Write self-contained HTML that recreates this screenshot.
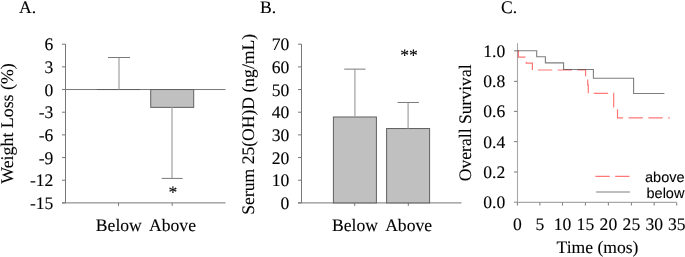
<!DOCTYPE html>
<html><head><meta charset="utf-8"><style>
html,body{margin:0;padding:0;background:#fff;width:685px;height:257px;overflow:hidden}
svg{display:block}
text{text-rendering:geometricPrecision;font-family:"Liberation Serif",serif;font-size:17.6px;fill:#000;stroke:#000;stroke-width:0.1px}
text.sans{font-family:"Liberation Sans",sans-serif;font-size:14.5px}
.ax{stroke:#777;stroke-width:1;fill:none}
.axc{stroke:#a8a8a8;stroke-width:1.1;fill:none}
.tkc{stroke:#858585;stroke-width:1.1;fill:none}
.ev{stroke:#a4a4a4;stroke-width:1.25;fill:none}
.er{stroke:#7a7a7a;stroke-width:1;fill:none}
.bar{fill:#c0c0c0;stroke:#606060;stroke-width:1}
.gr{stroke:#7e7e7e;stroke-width:1.1;fill:none}
.rd{stroke:#ff7878;stroke-width:1.2;fill:none;stroke-dasharray:14.3 5.5;mix-blend-mode:multiply}
</style></head><body>
<svg width="685" height="257" viewBox="0 0 685 257">
<line x1="65.5" y1="44.2" x2="65.5" y2="202.89" class="ax"/>
<line x1="62" y1="44.2" x2="65.5" y2="44.2" class="ax"/>
<text transform="translate(53.4,50.2) scale(1,1)" text-anchor="end">6</text>
<line x1="62" y1="66.87" x2="65.5" y2="66.87" class="ax"/>
<text transform="translate(53.4,72.87) scale(1,1)" text-anchor="end">3</text>
<line x1="62" y1="89.54" x2="65.5" y2="89.54" class="ax"/>
<text transform="translate(53.4,95.54) scale(1,1)" text-anchor="end">0</text>
<line x1="62" y1="112.21" x2="65.5" y2="112.21" class="ax"/>
<text transform="translate(53.4,118.21) scale(1,1)" text-anchor="end">-3</text>
<line x1="62" y1="134.88" x2="65.5" y2="134.88" class="ax"/>
<text transform="translate(53.4,140.88) scale(1,1)" text-anchor="end">-6</text>
<line x1="62" y1="157.55" x2="65.5" y2="157.55" class="ax"/>
<text transform="translate(53.4,163.55) scale(1,1)" text-anchor="end">-9</text>
<line x1="62" y1="180.22" x2="65.5" y2="180.22" class="ax"/>
<text transform="translate(53.4,186.22) scale(1,1)" text-anchor="end">-12</text>
<line x1="62" y1="202.89" x2="65.5" y2="202.89" class="ax"/>
<text transform="translate(53.4,208.89) scale(1,1)" text-anchor="end">-15</text>
<line x1="62" y1="202.89" x2="225.5" y2="202.89" class="ax"/>
<line x1="118.5" y1="202.89" x2="118.5" y2="205.89" class="ax"/>
<text transform="translate(118.8,230.7) scale(1,1)" text-anchor="middle">Below</text>
<line x1="172.2" y1="202.89" x2="172.2" y2="205.89" class="ax"/>
<text transform="translate(172.5,230.7) scale(1,1)" text-anchor="middle">Above</text>
<line x1="65.5" y1="89.54" x2="225.5" y2="89.54" class="ax"/>
<line x1="97" y1="89.54" x2="140" y2="89.54" stroke="#606060" stroke-width="1"/>
<line x1="119" y1="89.54" x2="119" y2="57.5" class="ev"/>
<line x1="108" y1="57.5" x2="130" y2="57.5" class="er"/>
<rect x="150.7" y="89.54" width="43" height="17.83" class="bar"/>
<line x1="172" y1="107.37" x2="172" y2="178.41" class="ev"/>
<line x1="161.7" y1="178.41" x2="182.7" y2="178.41" class="er"/>
<text transform="translate(173,198.4) scale(1,1)" text-anchor="middle">*</text>
<text transform="translate(19,12.8) scale(1,1)">A.</text>
<text transform="translate(13.2,123.5) rotate(-90) scale(1,1)" text-anchor="middle" style="font-size:17.85px">Weight Loss (%)</text>
<line x1="301.5" y1="44.2" x2="301.5" y2="202.9" class="ax"/>
<line x1="298" y1="44.2" x2="301.5" y2="44.2" class="ax"/>
<text transform="translate(289.4,50.2) scale(1,1)" text-anchor="end">70</text>
<line x1="298" y1="66.87" x2="301.5" y2="66.87" class="ax"/>
<text transform="translate(289.4,72.87) scale(1,1)" text-anchor="end">60</text>
<line x1="298" y1="89.54" x2="301.5" y2="89.54" class="ax"/>
<text transform="translate(289.4,95.54) scale(1,1)" text-anchor="end">50</text>
<line x1="298" y1="112.21" x2="301.5" y2="112.21" class="ax"/>
<text transform="translate(289.4,118.21) scale(1,1)" text-anchor="end">40</text>
<line x1="298" y1="134.89" x2="301.5" y2="134.89" class="ax"/>
<text transform="translate(289.4,140.89) scale(1,1)" text-anchor="end">30</text>
<line x1="298" y1="157.56" x2="301.5" y2="157.56" class="ax"/>
<text transform="translate(289.4,163.56) scale(1,1)" text-anchor="end">20</text>
<line x1="298" y1="180.23" x2="301.5" y2="180.23" class="ax"/>
<text transform="translate(289.4,186.23) scale(1,1)" text-anchor="end">10</text>
<line x1="298" y1="202.9" x2="301.5" y2="202.9" class="ax"/>
<text transform="translate(289.4,208.9) scale(1,1)" text-anchor="end">0</text>
<line x1="298" y1="202.9" x2="461.5" y2="202.9" class="ax"/>
<line x1="354.7" y1="202.9" x2="354.7" y2="205.9" class="ax"/>
<text transform="translate(355,230.7) scale(1,1)" text-anchor="middle">Below</text>
<line x1="408.3" y1="202.9" x2="408.3" y2="205.9" class="ax"/>
<text transform="translate(408.6,230.7) scale(1,1)" text-anchor="middle">Above</text>
<rect x="333.4" y="116.98" width="43" height="85.92" class="bar"/>
<line x1="354.9" y1="116.98" x2="354.9" y2="69.14" class="ev"/>
<line x1="344.2" y1="69.14" x2="365.5" y2="69.14" class="er"/>
<rect x="386.6" y="128.54" width="43" height="74.36" class="bar"/>
<line x1="408.1" y1="128.54" x2="408.1" y2="102.47" class="ev"/>
<line x1="397.5" y1="102.47" x2="418.9" y2="102.47" class="er"/>
<text transform="translate(409,60.8) scale(1,1)" text-anchor="middle">**</text>
<text transform="translate(260,12.5) scale(1,1)">B.</text>
<text transform="translate(254.2,124.3) rotate(-90) scale(1,1)" text-anchor="middle">Serum 25(OH)D (ng/mL)</text>
<line x1="517.5" y1="43.22" x2="517.5" y2="202.4" class="axc"/>
<line x1="514" y1="202.4" x2="517.5" y2="202.4" class="tkc"/>
<text transform="translate(505.3,208.4) scale(1,1)" text-anchor="end">0.0</text>
<line x1="514" y1="172" x2="517.5" y2="172" class="tkc"/>
<text transform="translate(505.3,178) scale(1,1)" text-anchor="end">0.2</text>
<line x1="514" y1="141.6" x2="517.5" y2="141.6" class="tkc"/>
<text transform="translate(505.3,147.6) scale(1,1)" text-anchor="end">0.4</text>
<line x1="514" y1="111.4" x2="517.5" y2="111.4" class="tkc"/>
<text transform="translate(505.3,117.4) scale(1,1)" text-anchor="end">0.6</text>
<line x1="514" y1="81.4" x2="517.5" y2="81.4" class="tkc"/>
<text transform="translate(505.3,87.4) scale(1,1)" text-anchor="end">0.8</text>
<line x1="514" y1="50.8" x2="517.5" y2="50.8" class="tkc"/>
<text transform="translate(505.3,56.8) scale(1,1)" text-anchor="end">1.0</text>
<line x1="514" y1="202.4" x2="676.7" y2="202.4" class="axc"/>
<line x1="517.44" y1="202.4" x2="517.44" y2="205.6" class="tkc"/>
<text transform="translate(517.44,230.1) scale(1,1)" text-anchor="middle">0</text>
<line x1="539.9" y1="202.4" x2="539.9" y2="205.6" class="tkc"/>
<text transform="translate(539.9,230.1) scale(1,1)" text-anchor="middle">5</text>
<line x1="562.5" y1="202.4" x2="562.5" y2="205.6" class="tkc"/>
<text transform="translate(562.5,230.1) scale(1,1)" text-anchor="middle">10</text>
<line x1="585.4" y1="202.4" x2="585.4" y2="205.6" class="tkc"/>
<text transform="translate(585.4,230.1) scale(1,1)" text-anchor="middle">15</text>
<line x1="608.4" y1="202.4" x2="608.4" y2="205.6" class="tkc"/>
<text transform="translate(608.4,230.1) scale(1,1)" text-anchor="middle">20</text>
<line x1="631.4" y1="202.4" x2="631.4" y2="205.6" class="tkc"/>
<text transform="translate(631.4,230.1) scale(1,1)" text-anchor="middle">25</text>
<line x1="654.2" y1="202.4" x2="654.2" y2="205.6" class="tkc"/>
<text transform="translate(654.2,230.1) scale(1,1)" text-anchor="middle">30</text>
<line x1="676.7" y1="202.4" x2="676.7" y2="205.6" class="tkc"/>
<text transform="translate(676.7,230.1) scale(1,1)" text-anchor="middle">35</text>
<text transform="translate(501,13.2) scale(1,1)">C.</text>
<text transform="translate(470.6,122.8) rotate(-90) scale(1,1)" text-anchor="middle">Overall Survival</text>
<text transform="translate(597.5,252.7) scale(1,1)" text-anchor="middle">Time (mos)</text>
<path d="M517.5,50.8 H536.7 V56.8 H545.4 V62.9 H563.6 V69.5 H593.4 V78.2 H633.6 V93.5 H664.4" class="gr"/>
<path d="M517.5,50.8 H518.4 V57.1 H526.3 V63.2 H532.4 V70 H585.6 V77.5 H587.7 V84.9 H588.3 V93.3 H613.7 V107 H617.5 V117.9 H669.8" class="rd"/>
<line x1="595.4" y1="176.4" x2="629.9" y2="176.4" class="rd"/>
<line x1="596.1" y1="192" x2="629.9" y2="192" class="gr"/>
<text transform="translate(645,182.2) scale(1,1)" class="sans">above</text>
<text transform="translate(646.5,197.5) scale(1,1)" class="sans">below</text>
</svg>
</body></html>
